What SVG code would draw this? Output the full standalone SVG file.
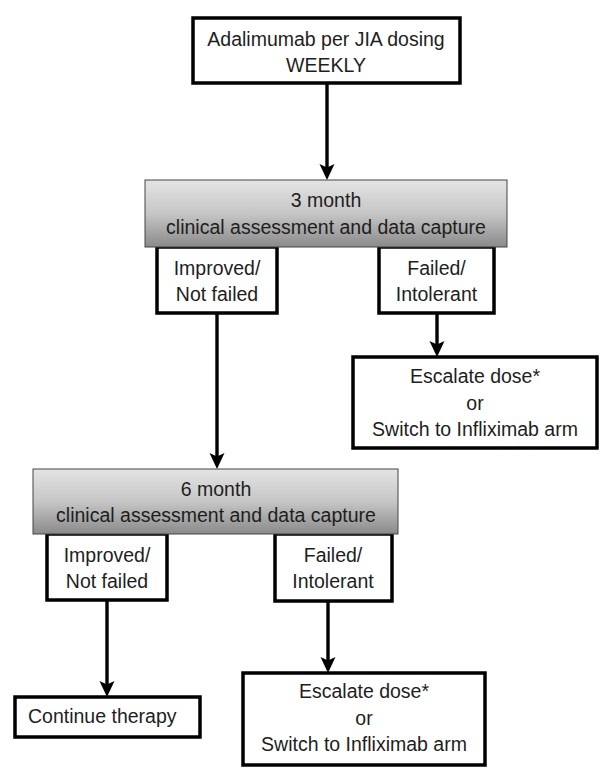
<svg xmlns="http://www.w3.org/2000/svg" width="614" height="783" viewBox="0 0 614 783">
<style>
.bx{fill:#fff;stroke:#000;stroke-width:3.5}
.gb{fill:url(#gg);stroke:#444;stroke-width:1}
.t{font-family:"Liberation Sans",Arial,sans-serif;font-size:19.5px;fill:#1e1e1e;text-anchor:middle}
.c{stroke:#000;stroke-width:3.4;fill:none;marker-end:url(#ah)}
</style>
<defs>
<linearGradient id="gg" x1="0" y1="0" x2="0" y2="1">
<stop offset="0" stop-color="#e4e4e4"/>
<stop offset="0.5" stop-color="#c6c6c6"/>
<stop offset="1" stop-color="#8a8a8a"/>
</linearGradient>
<marker id="ah" viewBox="0 0 16 16" refX="10" refY="8" markerWidth="16" markerHeight="16" markerUnits="userSpaceOnUse" orient="auto">
<path d="M0,0.5 L16,8 L0,15.5 L3.5,8 Z" fill="#000"/>
</marker>
</defs>
<rect width="614" height="783" fill="#fff"/>
<g id="connectors">
<line class="c" x1="327" y1="83" x2="327" y2="174"/>
<line class="c" x1="217" y1="313" x2="217" y2="463"/>
<line class="c" x1="437" y1="313" x2="437" y2="351"/>
<line class="c" x1="107" y1="600" x2="107" y2="691"/>
<line class="c" x1="328" y1="601" x2="328" y2="667"/>
</g>
<g id="start">
<rect class="bx" x="193" y="18" width="267" height="65"/>
<text class="t" x="326" y="46">Adalimumab per JIA dosing</text>
<text class="t" x="326" y="72">WEEKLY</text>
</g>
<g id="improved3">
<rect class="bx" x="157" y="247" width="120" height="66"/>
<text class="t" x="217" y="275">Improved/</text>
<text class="t" x="217" y="301">Not failed</text>
</g>
<g id="failed3">
<rect class="bx" x="379" y="247" width="115" height="66"/>
<text class="t" x="436.5" y="275">Failed/</text>
<text class="t" x="436.5" y="301">Intolerant</text>
</g>
<g id="month3">
<rect class="gb" x="145" y="180" width="362" height="67"/>
<text class="t" x="326" y="207">3 month</text>
<text class="t" x="326" y="234">clinical assessment and data capture</text>
</g>
<g id="escalate1">
<rect class="bx" x="353" y="357" width="244" height="91"/>
<text class="t" x="475" y="383">Escalate dose*</text>
<text class="t" x="475" y="410">or</text>
<text class="t" x="475" y="436">Switch to Infliximab arm</text>
</g>
<g id="improved6">
<rect class="bx" x="47" y="534" width="120" height="66"/>
<text class="t" x="107" y="562">Improved/</text>
<text class="t" x="107" y="588">Not failed</text>
</g>
<g id="failed6">
<rect class="bx" x="275" y="534" width="117" height="67"/>
<text class="t" x="333" y="562">Failed/</text>
<text class="t" x="333" y="588">Intolerant</text>
</g>
<g id="month6">
<rect class="gb" x="33" y="469" width="365" height="65"/>
<text class="t" x="216" y="496">6 month</text>
<text class="t" x="216" y="522">clinical assessment and data capture</text>
</g>
<g id="continue">
<rect class="bx" x="15" y="697" width="185" height="40"/>
<text class="t" x="28" y="723" style="text-anchor:start">Continue therapy</text>
</g>
<g id="escalate2">
<rect class="bx" x="243" y="673" width="242" height="92"/>
<text class="t" x="364" y="698">Escalate dose*</text>
<text class="t" x="364" y="725">or</text>
<text class="t" x="364" y="751">Switch to Infliximab arm</text>
</g>
</svg>
